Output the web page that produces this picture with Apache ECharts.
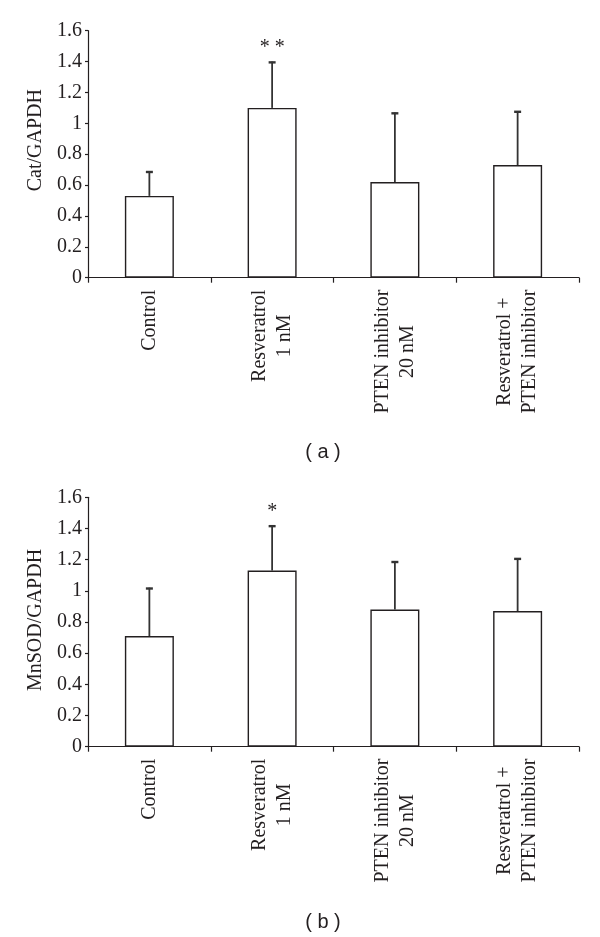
<!DOCTYPE html>
<html>
<head>
<meta charset="utf-8">
<script src="https://cdn.jsdelivr.net/npm/echarts@6/dist/echarts.min.js"></script>
<style>
html,body{margin:0;padding:0;background:#fff;}
#chart{width:600px;height:937px;}
</style>
</head>
<body>
<div id="chart"></div>
<script>
// ---- data ----
const categories = ['Control', 'Resveratrol\n1 nM', 'PTEN inhibitor\n20 nM', 'Resveratrol +\nPTEN inhibitor'];
const catMeans = [0.53, 1.10, 0.62, 0.73];
const catErrors = [0.16, 0.30, 0.45, 0.35];
const catSig = ['', '**', '', ''];
const mnsodMeans = [0.71, 1.13, 0.88, 0.87];
const mnsodErrors = [0.31, 0.29, 0.31, 0.34];
const mnsodSig = ['', '*', '', ''];
const yMin = 0, yMax = 1.6, yInterval = 0.2;
const yNames = ['Cat/GAPDH', 'MnSOD/GAPDH'];
const captions = ['( a )', '( b )'];

const SERIF = '"Liberation Serif", "Times New Roman", serif';
const SANS = '"Liberation Sans", Arial, sans-serif';
const INK = '#231f20';
const FS = 20;
const namePads = [[0, 0, 0, 28], [0, 0, 0, 4]];

function xAxisFor(gridIndex) {
  return {
    type: 'category', gridIndex: gridIndex, data: categories,
    axisLine: { lineStyle: { color: INK, width: 1.2 } },
    axisTick: { show: true, length: 5, lineStyle: { color: INK, width: 1.2 } },
    axisLabel: {
      rotate: 90, margin: 12, interval: 0, color: INK,
      fontFamily: SERIF, fontSize: FS,
      formatter: v => v.split('\n').map(s => '{a|' + s + '}').join('\n'),
      rich: { a: { align: 'center', fontFamily: SERIF, fontSize: FS, lineHeight: 25, color: INK } }
    },
    splitLine: { show: false }
  };
}
function yAxisFor(gridIndex) {
  return {
    type: 'value', gridIndex: gridIndex, min: yMin, max: yMax, interval: yInterval,
    name: yNames[gridIndex], nameLocation: 'middle', nameRotate: 90, nameGap: 42,
    nameTextStyle: { fontFamily: SERIF, fontSize: FS, color: INK, padding: namePads[gridIndex] },
    axisLine: { show: true, lineStyle: { color: INK, width: 1.2 } },
    axisTick: { show: true, length: 3, lineStyle: { color: INK, width: 1.2 } },
    axisLabel: { margin: 6, color: INK, fontFamily: SERIF, fontSize: FS },
    splitLine: { show: false }
  };
}
function errSeries(gridIndex, means, errs, sig) {
  return {
    type: 'custom', xAxisIndex: gridIndex, yAxisIndex: gridIndex, z: 5,
    data: means.map((m, i) => [i, m, errs[i]]),
    renderItem: function (params, api) {
      const i = api.value(0), m = api.value(1), e = api.value(2);
      const p0 = api.coord([i, m]);
      const p1 = api.coord([i, m + e]);
      const children = [
        { type: 'line', shape: { x1: p0[0], y1: p0[1], x2: p1[0], y2: p1[1] }, style: { stroke: '#333', lineWidth: 1.8 } },
        { type: 'line', shape: { x1: p1[0] - 3.5, y1: p1[1] + 0.8, x2: p1[0] + 3.5, y2: p1[1] + 0.8 }, style: { stroke: '#333', lineWidth: 2.4 } }
      ];
      const s = sig[params.dataIndex];
      if (s) {
        children.push({ type: 'text', x: p1[0], y: p1[1] - 4,
          style: { text: s.split('').join(' '), textAlign: 'center', textVerticalAlign: 'bottom',
                   font: '20px ' + SERIF, fill: INK } });
      }
      return { type: 'group', children: children };
    }
  };
}
function barSeries(gridIndex, means) {
  return {
    type: 'bar', xAxisIndex: gridIndex, yAxisIndex: gridIndex, data: means, barWidth: 49,
    itemStyle: { color: '#ffffff', borderColor: INK, borderWidth: 1.4 },
    emphasis: { disabled: true }, silent: true
  };
}

const chart = echarts.init(document.getElementById('chart'), null, { renderer: 'canvas' });
chart.setOption({
  animation: false,
  backgroundColor: '#ffffff',
  grid: [
    { left: 88, right: 21, top: 30.7, height: 247 },
    { left: 88, right: 21, top: 497.3, height: 249.4 }
  ],
  xAxis: [xAxisFor(0), xAxisFor(1)],
  yAxis: [yAxisFor(0), yAxisFor(1)],
  series: [
    barSeries(0, catMeans), errSeries(0, catMeans, catErrors, catSig),
    barSeries(1, mnsodMeans), errSeries(1, mnsodMeans, mnsodErrors, mnsodSig)
  ],
  graphic: [
    { type: 'text', x: 323, y: 452, style: { text: captions[0], textAlign: 'center', textVerticalAlign: 'middle', font: '20px ' + SANS, fill: INK } },
    { type: 'text', x: 323, y: 922, style: { text: captions[1], textAlign: 'center', textVerticalAlign: 'middle', font: '20px ' + SANS, fill: INK } }
  ]
});
</script>
</body>
</html>
